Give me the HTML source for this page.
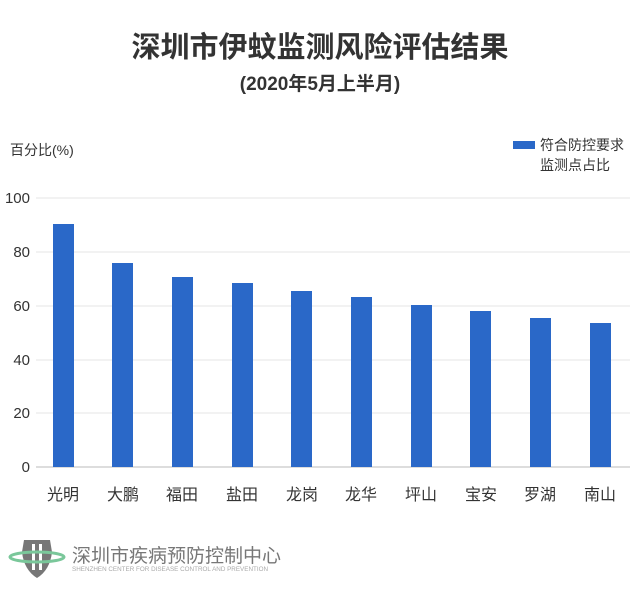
<!DOCTYPE html>
<html><head><meta charset="utf-8"><style>
body{margin:0;background:#fff;}
svg text{font-family:"Liberation Sans","Noto Sans CJK SC",sans-serif;}
</style></head><body>
<svg width="640" height="597" viewBox="0 0 640 597" xmlns="http://www.w3.org/2000/svg">
<rect width="640" height="597" fill="#fff"/>
<text x="320" y="57" text-anchor="middle" font-size="29" font-weight="bold" fill="#333">深圳市伊蚊监测风险评估结果</text>
<text x="320" y="90" text-anchor="middle" font-size="19" font-weight="bold" fill="#333">(2020年5月上半月)</text>
<text x="10" y="155" font-size="14" fill="#333">百分比(%)</text>
<rect x="513" y="141" width="22" height="8" fill="#2a68c8"/>
<text x="540" y="150" font-size="14" fill="#333">符合防控要求</text>
<text x="540" y="170" font-size="14" fill="#333">监测点占比</text>
<g stroke="#e6e6e6" stroke-width="1">
<line x1="36" y1="198" x2="630" y2="198"/>
<line x1="36" y1="252" x2="630" y2="252"/>
<line x1="36" y1="306" x2="630" y2="306"/>
<line x1="36" y1="360" x2="630" y2="360"/>
<line x1="36" y1="413" x2="630" y2="413"/>
</g>
<line x1="36" y1="467" x2="630" y2="467" stroke="#bbb"/>
<g font-size="15" fill="#333" text-anchor="end">
<text x="30" y="203">100</text><text x="30" y="257">80</text><text x="30" y="311">60</text><text x="30" y="365">40</text><text x="30" y="418">20</text><text x="30" y="472">0</text>
</g>
<g fill="#2a68c8">
<rect x="53" y="224" width="21" height="243"/>
<rect x="112" y="263" width="21" height="204"/>
<rect x="172" y="277" width="21" height="190"/>
<rect x="232" y="283" width="21" height="184"/>
<rect x="291" y="291" width="21" height="176"/>
<rect x="351" y="297" width="21" height="170"/>
<rect x="411" y="305" width="21" height="162"/>
<rect x="470" y="311" width="21" height="156"/>
<rect x="530" y="318" width="21" height="149"/>
<rect x="590" y="323" width="21" height="144"/>
</g>
<g font-size="16" fill="#333" text-anchor="middle">
<text x="63" y="500">光明</text><text x="123" y="500">大鹏</text><text x="182" y="500">福田</text><text x="242" y="500">盐田</text><text x="302" y="500">龙岗</text><text x="361" y="500">龙华</text><text x="421" y="500">坪山</text><text x="481" y="500">宝安</text><text x="540" y="500">罗湖</text><text x="600" y="500">南山</text>
</g>
<path d="M24 540 L50 540 L52 552 Q50 570 37 578 Q24 570 22 552 Z" fill="#777"/>
<rect x="32" y="544" width="3" height="26" fill="#fff"/>
<rect x="39" y="544" width="3" height="26" fill="#fff"/>
<ellipse cx="37" cy="557" rx="27" ry="5" fill="none" stroke="#7ac79a" stroke-width="3"/>
<text x="72" y="562" font-size="19" fill="#777">深圳市疾病预防控制中心</text>
<text x="72" y="571" font-size="6.3" fill="#aaa">SHENZHEN CENTER FOR DISEASE CONTROL AND PREVENTION</text>
</svg>
</body></html>
